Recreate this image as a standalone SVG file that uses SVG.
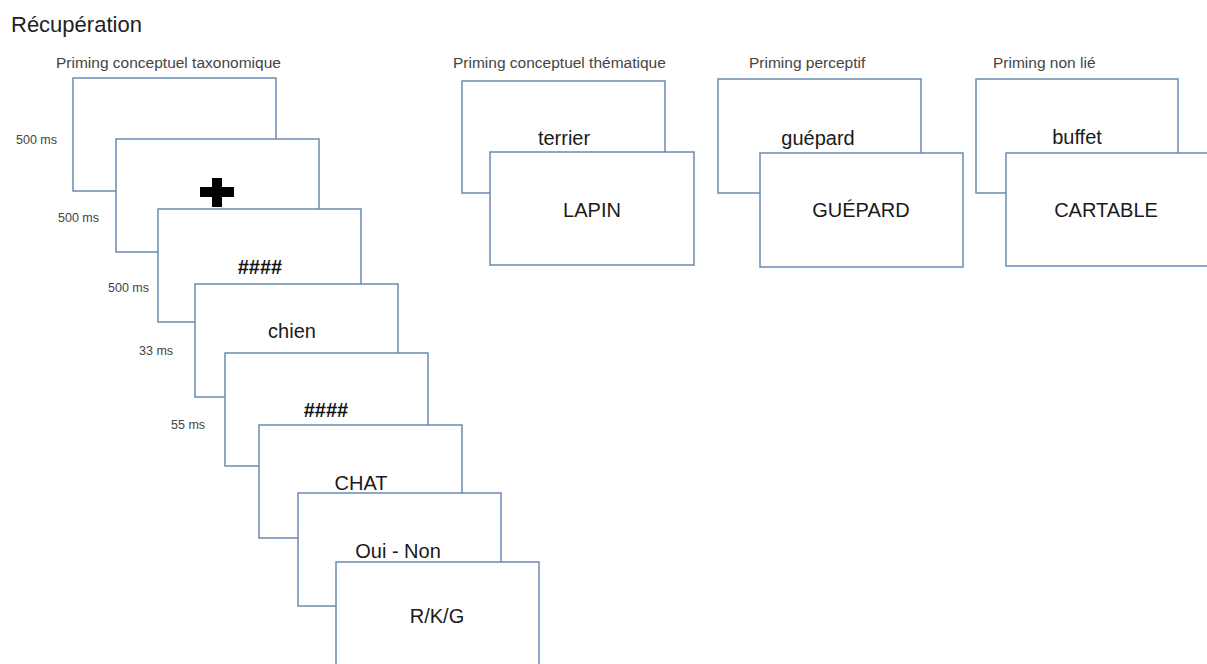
<svg xmlns="http://www.w3.org/2000/svg" width="1207" height="664" viewBox="0 0 1207 664">
<style>
.card{fill:#ffffff;stroke:#6a8ab0;stroke-width:1.5}
.title{font-family:"Liberation Sans",Arial,sans-serif;font-size:22px;fill:#222}
.hdr{font-family:"Liberation Sans",Arial,sans-serif;font-size:15.5px;fill:#444}
.ms{font-family:"Liberation Sans",Arial,sans-serif;font-size:12.5px;fill:#444}
.word{font-family:"Liberation Sans",Arial,sans-serif;font-size:20px;fill:#1a1a1a;text-anchor:middle}
.hash{font-family:"Liberation Sans",Arial,sans-serif;font-size:20px;font-weight:bold;fill:#111;text-anchor:middle}
</style>
<rect width="1207" height="664" fill="#ffffff"/>
<text class="title" x="11" y="32">Récupération</text>
<g id="headers">
<text class="hdr" x="56" y="68">Priming conceptuel taxonomique</text>
<text class="hdr" x="453" y="68">Priming conceptuel thématique</text>
<text class="hdr" x="749" y="68">Priming perceptif</text>
<text class="hdr" x="993" y="68">Priming non lié</text>
</g>
<g id="durations">
<text class="ms" x="16" y="144">500 ms</text>
<text class="ms" x="58" y="222">500 ms</text>
<text class="ms" x="108" y="292">500 ms</text>
<text class="ms" x="139" y="355">33 ms</text>
<text class="ms" x="171" y="429">55 ms</text>
</g>
<g id="taxo-1"><rect class="card" x="73" y="78" width="203" height="113"/></g>
<g id="taxo-2"><rect class="card" x="116" y="139" width="203" height="113"/>
<rect x="200" y="187" width="34" height="10" fill="#000"/><rect x="212" y="178" width="10" height="29" fill="#000"/></g>
<g id="taxo-3"><rect class="card" x="158" y="209" width="203" height="113"/><text class="hash" x="260" y="274">####</text></g>
<g id="taxo-4"><rect class="card" x="195" y="284" width="203" height="113"/><text class="word" x="292" y="338">chien</text></g>
<g id="taxo-5"><rect class="card" x="225" y="353" width="203" height="113"/><text class="hash" x="326" y="417">####</text></g>
<g id="taxo-6"><rect class="card" x="259" y="425" width="203" height="113"/><text class="word" x="361" y="490">CHAT</text></g>
<g id="taxo-7"><rect class="card" x="298" y="493" width="203" height="113"/><text class="word" x="398" y="558">Oui - Non</text></g>
<g id="taxo-8"><rect class="card" x="336" y="562" width="203" height="113"/><text class="word" x="437" y="623">R/K/G</text></g>
<g id="theme-prime"><rect class="card" x="462" y="81" width="203" height="112"/><text class="word" x="564" y="145">terrier</text></g>
<g id="theme-target"><rect class="card" x="490" y="152" width="204" height="113"/><text class="word" x="592" y="217">LAPIN</text></g>
<g id="percept-prime"><rect class="card" x="718" y="79" width="203" height="114"/><text class="word" x="818" y="145">guépard</text></g>
<g id="percept-target"><rect class="card" x="760" y="153" width="203" height="114"/><text class="word" x="861" y="217">GUÉPARD</text></g>
<g id="unrel-prime"><rect class="card" x="976" y="79" width="202" height="114"/><text class="word" x="1077" y="144">buffet</text></g>
<g id="unrel-target"><rect class="card" x="1006" y="153" width="203" height="113"/><text class="word" x="1106" y="217">CARTABLE</text></g>
<g id="connectors"/>
</svg>
